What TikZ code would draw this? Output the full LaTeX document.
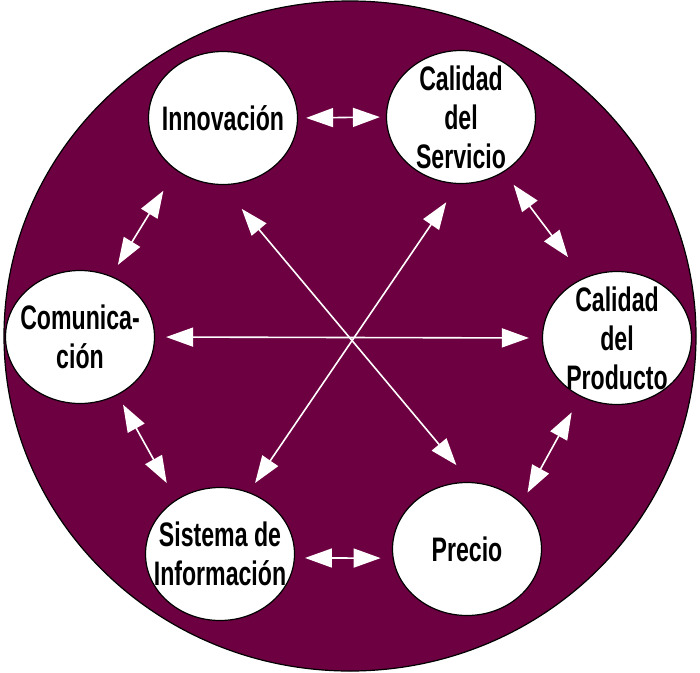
\documentclass[tikz,border=0pt]{standalone}
\usepackage{fontspec}
\usepackage{tikz}
\usetikzlibrary{arrows.meta,shapes.geometric}
\newfontfamily\factorfont[FakeStretch=0.68]{Liberation Sans}
\definecolor{wheelMaroon}{RGB}{108,0,64}

\begin{document}
\begin{tikzpicture}[x=1pt,y=-1pt,
    factor/.style={ellipse, draw=black, line width=1.2pt, fill=white,
      minimum width=149pt, minimum height=133pt, inner sep=0pt},
    factorText/.style={inner sep=0pt, align=center,
      font=\factorfont\bfseries\fontsize{34}{39}\selectfont},
    link/.style={white, line width=1.6pt,
      {Triangle[length=27pt,width=19pt]}-{Triangle[length=27pt,width=19pt]}}]
  \useasboundingbox (0,0) rectangle (700,672);

  % big wheel behind everything
  \draw[fill=wheelMaroon, line width=1.2pt] (350,336) ellipse [x radius=346pt, y radius=335pt];

  % the six factors, clockwise from top left
  \node[factor] (inno) at (223,118) {};
  \node[factor] (serv) at (461,117) {};
  \node[factor] (prod) at (617,338) {};
  \node[factor] (prec) at (467,549) {};
  \node[factor] (sist) at (220,554) {};
  \node[factor] (comu) at (80,337) {};

  \node[factorText] (innoText) at (inno) {Innovación};
  \node[factorText] (servText) at (serv) {Calidad\\del\\Servicio};
  \node[factorText] (prodText) at (prod) {Calidad\\del\\Producto};
  \node[factorText] (precText) at (prec) {Precio};
  \node[factorText] (sistText) at (sist) {Sistema de\\Información};
  \node[factorText] (comuText) at (comu) {Comunica-\\ción};

  % links between neighbours
  \draw[link, shorten <=8pt, shorten >=6pt] (inno.east) -- (serv.west);
  \draw[link, shorten <=16pt, shorten >=26pt] (serv.308) -- (prod.119);
  \draw[link, shorten <=18pt, shorten >=12pt] (prod.238) -- (prec.40);
  \draw[link, shorten <=10pt, shorten >=12pt] (sist.-3) -- (prec.187);
  \draw[link, shorten <=11pt, shorten >=19pt] (comu.303) -- (sist.129);
  \draw[link, shorten <=24pt, shorten >=13pt] (inno.228) -- (comu.63);

  % links across the middle
  \draw[link, shorten <=11pt, shorten >=13pt] (comu.east) -- (prod.west);
  \draw[link, shorten <=31pt, shorten >=22pt] (inno.269) -- (prec.87);
  \draw[link, shorten <=22pt, shorten >=11pt] (serv.268) -- (sist.65);
\end{tikzpicture}
\end{document}
